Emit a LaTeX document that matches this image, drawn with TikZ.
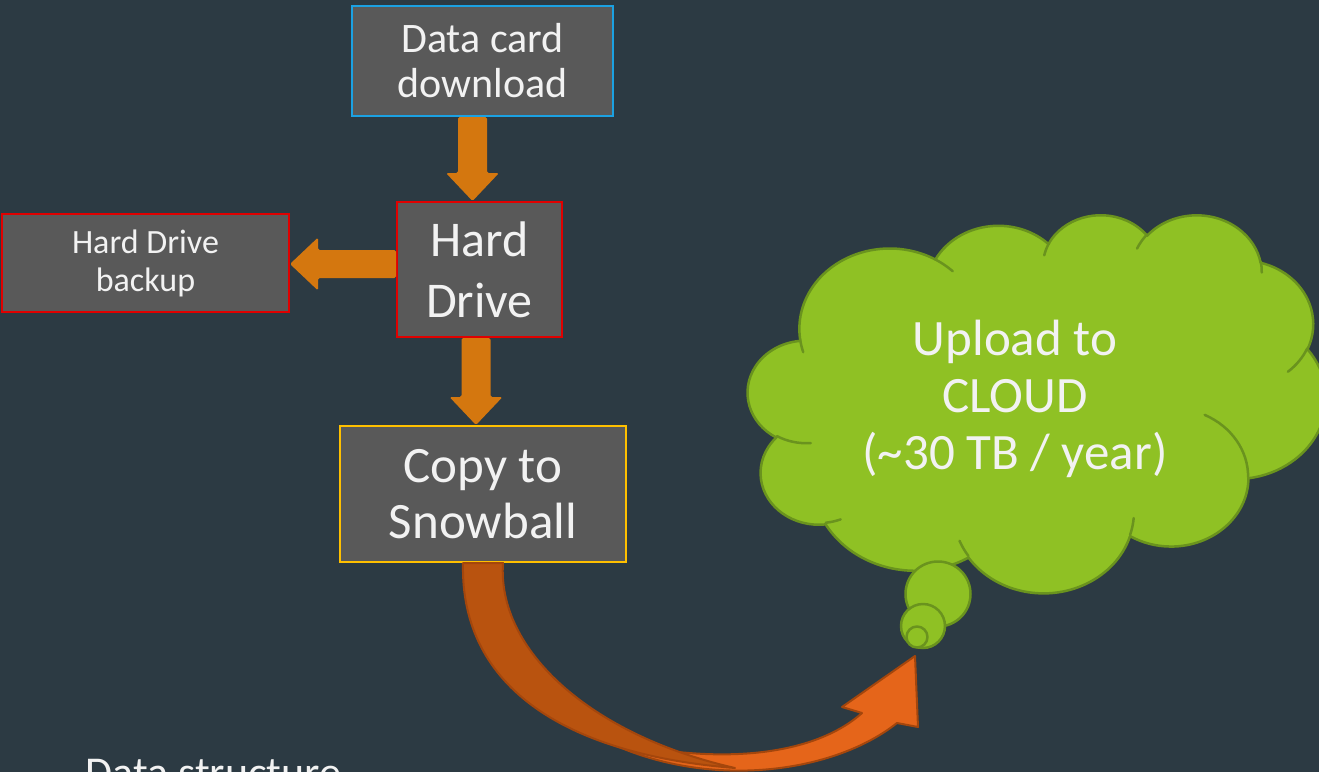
\documentclass[tikz,border=0pt]{standalone}
\usepackage{fontspec}
\setmainfont{Carlito}
\usetikzlibrary{calc}

\definecolor{slate}{HTML}{2C3A43}
\definecolor{boxgray}{HTML}{595959}
\definecolor{txt}{HTML}{F2F2F2}
\definecolor{cardblue}{HTML}{1BA1E2}
\definecolor{drivered}{HTML}{E00000}
\definecolor{snowgold}{HTML}{FFC000}
\definecolor{flow}{HTML}{D4770F}
\definecolor{cloudgreen}{HTML}{8FC124}
\definecolor{cloudedge}{HTML}{6A931E}
\definecolor{sweepback}{HTML}{B9530F}
\definecolor{sweepfront}{HTML}{E5651A}
\definecolor{sweepedge}{HTML}{A4460C}

\tikzset{
  box/.style={draw, line width=1pt, fill=boxgray, text=txt, align=center, inner sep=0pt},
  blockarrow/.style={fill=flow, rounded corners=0.8pt},
  cloudbody/.style={fill=cloudgreen, draw=cloudedge, line width=1.25pt, line join=round},
  crease/.style={draw=cloudedge, line width=1.25pt, line cap=round},
  sweep/.style={draw=sweepedge, line width=1pt, line join=round},
}

% thick downward block arrow: #1 start anchor, #2 tip anchor, #3 axis x
\newcommand\blockdown[3]{%
  \fill[blockarrow] let \p1=(#1), \p2=(#2), \p3=(#3,0) in
    ({\x3-7.25pt},\y1) -- ({\x3-7.25pt},{\y2+14pt}) -- ({\x3-13.25pt},{\y2+14pt})
    -- (\x3,\y2) -- ({\x3+13.25pt},{\y2+14pt}) -- ({\x3+7.25pt},{\y2+14pt})
    -- ({\x3+7.25pt},\y1) -- cycle;}
% thick leftward block arrow: #1 start anchor, #2 tip anchor, #3 axis y
\newcommand\blockleft[3]{%
  \fill[blockarrow] let \p1=(#1), \p2=(#2), \p3=(0,#3) in
    (\x1,{\y3+7pt}) -- ({\x2+14pt},{\y3+7pt}) -- ({\x2+14pt},{\y3+13.25pt})
    -- (\x2,\y3) -- ({\x2+14pt},{\y3-13.25pt}) -- ({\x2+14pt},{\y3-7pt})
    -- (\x1,{\y3-7pt}) -- cycle;}

\begin{document}
\begin{tikzpicture}[x=0.5pt,y=-0.5pt]
\useasboundingbox (0,0) rectangle (1319,772);
\clip (0,0) rectangle (1319,772);
\fill[slate] (0,0) rectangle (1319,772);

% process boxes
\node[box, draw=cardblue, minimum width=130.5pt, minimum height=55pt,
      font=\fontsize{21}{22.5}\selectfont] (dcard) at (482.5,61) {Data card\\download};
\node[box, draw=drivered, minimum width=82.5pt, minimum height=67.5pt,
      font=\fontsize{25}{30.5}\selectfont] (hd) at (479.5,269.5) {Hard\\Drive};
\node[box, draw=drivered, minimum width=143.5pt, minimum height=49pt,
      font=\fontsize{17}{19}\selectfont] (hdb) at (145.5,263) {Hard Drive\\backup};
\node[box, draw=snowgold, minimum width=143pt, minimum height=68pt,
      font=\fontsize{25.5}{28}\selectfont] (snow) at (483,494) {Copy to\\Snowball};

% straight flow arrows
\blockdown{dcard.south}{hd.north}{472.5}
\blockleft{hd.west}{hdb.east}{264}
\blockdown{hd.south}{snow.north}{476}

% cloud callout body
\begin{scope}[shift={(748,214)}, x=0.66898pt, y=-0.4375pt]
  \path[cloudbody] (39.00,143.70)
    arc[start angle=-187.745, end angle=-59.631, x radius=67.53, y radius=91.90]
    arc[start angle=-152.02,  end angle=-45.458, x radius=53.33, y radius=72.67]
    arc[start angle=-153.50,  end angle=-37.33,  x radius=43.65, y radius=59.45]
    arc[start angle=-139.71,  end angle=-10.21,  x radius=48.57, y radius=65.95]
    arc[start angle=-74.77,   end angle=23.21,   x radius=53.33, y radius=72.73]
    arc[start angle=-37.53,   end angle=81.86,   x radius=67.75, y radius=92.20]
    arc[start angle=0.4596,   end angle=121.98,  x radius=57.85, y radius=78.67]
    arc[start angle=16.84,    end angle=146.22,  x radius=67.52, y radius=92.15]
    arc[start angle=58.98,    end angle=150.20,  x radius=77.20, y radius=105.43]
    arc[start angle=83.31,    end angle=223.11,  x radius=43.60, y radius=59.18]
    arc[start angle=120.35,   end angle=264.11,  x radius=43.45, y radius=59.45]
    -- cycle;
  % inner folds of the cloud
  \path[crease] (46.93,261.77) arc[start angle=85.546, end angle=120.35, x radius=43.45, y radius=59.45];
  \path[crease] (69.28,348.99) arc[start angle=68.23, end angle=83.31, x radius=43.60, y radius=59.18];
  \path[crease] (164.78,390.90) arc[start angle=146.22, end angle=158.47, x radius=67.52, y radius=92.15];
  \path[crease] (288.27,347.51) arc[start angle=4.738, end angle=16.84, x radius=67.52, y radius=92.15];
  \path[crease] (341.29,229.54) arc[start angle=-64.03, end angle=0.4596, x radius=57.85, y radius=78.67];
  \path[crease] (417.98,153.54) arc[start angle=23.21, end angle=49.64, x radius=53.33, y radius=72.73];
  \path[crease] (383.24,54.26) arc[start angle=-10.21, end angle=0.821, x radius=48.57, y radius=65.95];
  \path[crease] (290.78,39.52) arc[start angle=-156.29, end angle=-139.71, x radius=48.57, y radius=65.95];
  \path[crease] (221.41,47.20) arc[start angle=-167.73, end angle=-153.50, x radius=43.65, y radius=59.45];
  \path[crease] (140.00,51.92) arc[start angle=-59.631, end angle=-45.74, x radius=67.53, y radius=91.90];
  \path[crease] (41.27,157.89) arc[start angle=163.19, end angle=172.25, x radius=67.53, y radius=91.90];
\end{scope}

% thought bubbles of the callout
\path[cloudbody] (938,594) circle[radius=32.5];
\path[cloudbody] (923,626) circle[radius=22];
\path[cloudbody] (917,637) circle[radius=10.5];

\node[text=txt, align=center, font=\fontsize{25.5}{28.5}\selectfont, inner sep=0pt]
  (cloudtext) at (1015,399) {Upload to\\CLOUD\\(\textasciitilde30 TB / year)};

% curved arrow from the Snowball box up to the cloud
\coordinate (tip) at (915,656);
\path[sweep, fill=sweepfront] (600,738) .. controls (700,790) and (830,776) .. (897,723)
  -- (918,727) -- (tip) -- (842,707) -- (862,713)
  .. controls (815,755) and (720,768) .. (600,738) -- cycle;
\path[sweep, fill=sweepback] (463,563) .. controls (460,690) and (570,755) .. (735,768)
  .. controls (590,735) and (497,650) .. (503,563) -- cycle;

\node[anchor=base west, text=txt, font=\fontsize{22}{26}\selectfont, inner sep=0pt]
  (caption) at (85,787) {Data structure};
\end{tikzpicture}
\end{document}
